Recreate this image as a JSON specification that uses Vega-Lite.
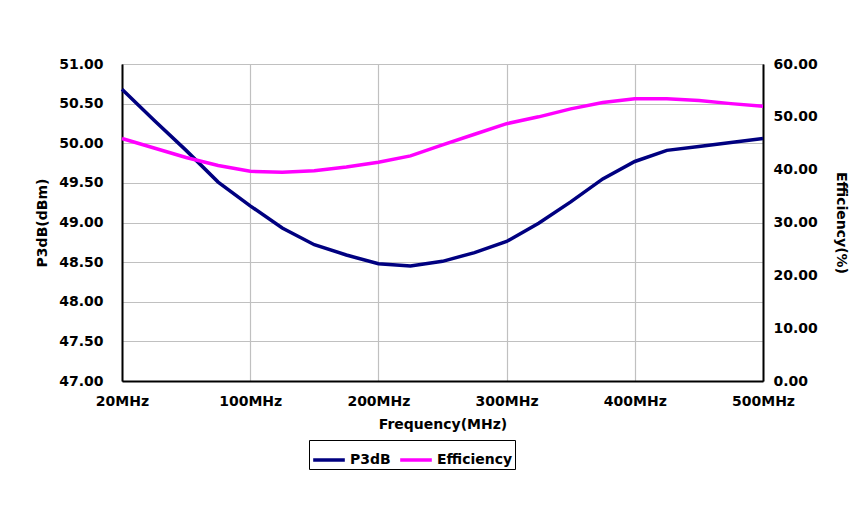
{
  "$schema": "https://vega.github.io/schema/vega-lite/v6.json",
  "autosize": {"type": "none"},
  "width": 641,
  "height": 317,
  "padding": {"left": 122, "top": 64, "right": 100, "bottom": 148},
  "background": "white",
  "data": {"values": [
    {"freq": "20MHz", "P3dB": 50.68, "Efficiency": 45.9},
    {"freq": "40MHz", "P3dB": 50.29, "Efficiency": 44.1},
    {"freq": "60MHz", "P3dB": 49.91, "Efficiency": 42.3},
    {"freq": "80MHz", "P3dB": 49.51, "Efficiency": 40.8},
    {"freq": "100MHz", "P3dB": 49.21, "Efficiency": 39.7},
    {"freq": "125MHz", "P3dB": 48.93, "Efficiency": 39.5},
    {"freq": "150MHz", "P3dB": 48.72, "Efficiency": 39.8},
    {"freq": "175MHz", "P3dB": 48.59, "Efficiency": 40.5},
    {"freq": "200MHz", "P3dB": 48.48, "Efficiency": 41.4},
    {"freq": "225MHz", "P3dB": 48.45, "Efficiency": 42.6},
    {"freq": "250MHz", "P3dB": 48.51, "Efficiency": 44.7},
    {"freq": "275MHz", "P3dB": 48.62, "Efficiency": 46.7},
    {"freq": "300MHz", "P3dB": 48.76, "Efficiency": 48.7},
    {"freq": "325MHz", "P3dB": 48.99, "Efficiency": 50.0},
    {"freq": "350MHz", "P3dB": 49.26, "Efficiency": 51.5},
    {"freq": "375MHz", "P3dB": 49.55, "Efficiency": 52.7},
    {"freq": "400MHz", "P3dB": 49.77, "Efficiency": 53.4},
    {"freq": "425MHz", "P3dB": 49.91, "Efficiency": 53.4},
    {"freq": "450MHz", "P3dB": 49.96, "Efficiency": 53.1},
    {"freq": "475MHz", "P3dB": 50.01, "Efficiency": 52.5},
    {"freq": "500MHz", "P3dB": 50.06, "Efficiency": 52.0}
  ]},
  "encoding": {
    "x": {
      "field": "freq", "type": "ordinal", "sort": null,
      "scale": {"type": "point", "padding": 0},
      "axis": {
        "title": "Frequency(MHz)",
        "values": ["20MHz", "100MHz", "200MHz", "300MHz", "400MHz", "500MHz"],
        "labelAngle": 0,
        "grid": true,
        "tickSize": 0,
        "labelPadding": 13,
        "titlePadding": 9
      }
    }
  },
  "layer": [
    {
      "mark": {"type": "line", "strokeWidth": 3.5},
      "encoding": {
        "y": {
          "field": "P3dB", "type": "quantitative",
          "scale": {"domain": [47, 51], "nice": false, "zero": false},
          "axis": {
            "title": "P3dB(dBm)",
            "values": [47, 47.5, 48, 48.5, 49, 49.5, 50, 50.5, 51],
            "format": ".2f",
            "grid": true,
            "tickSize": 0,
            "labelPadding": 19,
            "titlePadding": 9
          }
        },
        "color": {"datum": "P3dB"}
      }
    },
    {
      "mark": {"type": "line", "strokeWidth": 3.5},
      "encoding": {
        "y": {
          "field": "Efficiency", "type": "quantitative",
          "scale": {"domain": [0, 60], "nice": false},
          "axis": {
            "title": "Efficiency(%)",
            "orient": "right",
            "values": [0, 10, 20, 30, 40, 50, 60],
            "format": ".2f",
            "grid": false,
            "tickSize": 0,
            "labelPadding": 10,
            "titlePadding": 16
          }
        },
        "color": {"datum": "Efficiency"}
      }
    }
  ],
  "resolve": {"scale": {"y": "independent"}},
  "config": {
    "view": {"stroke": "black", "strokeWidth": 1},
    "font": "DejaVu Sans",
    "axis": {
      "labelFont": "DejaVu Sans",
      "labelFontWeight": "bold",
      "labelFontSize": 14,
      "labelColor": "black",
      "titleFont": "DejaVu Sans",
      "titleFontWeight": "bold",
      "titleFontSize": 14,
      "titleColor": "black",
      "domainColor": "black",
      "domainWidth": 2,
      "gridColor": "#c0c0c0",
      "gridWidth": 1.2
    },
    "legend": {
      "orient": "none",
      "legendX": 187,
      "legendY": 376,
      "direction": "horizontal",
      "title": null,
      "strokeColor": "black",
      "fillColor": "white",
      "padding": 2,
      "symbolType": "stroke",
      "symbolSize": 1000,
      "symbolStrokeWidth": 3.5,
      "labelFont": "DejaVu Sans",
      "labelFontWeight": "bold",
      "labelFontSize": 14,
      "labelColor": "black",
      "columnPadding": 2,
      "labelOffset": 3
    },
    "range": {"category": ["#000080", "#ff00ff"]}
  }
}
